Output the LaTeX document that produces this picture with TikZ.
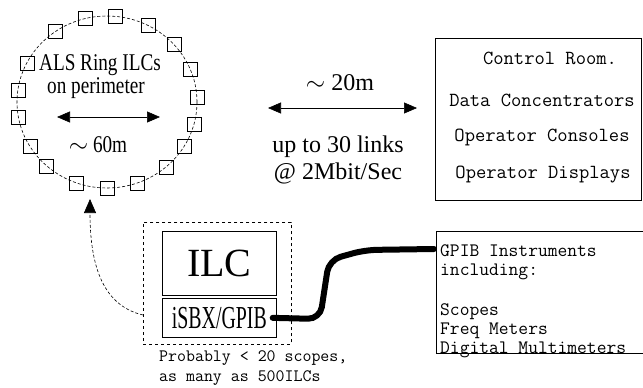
\documentclass[tikz,border=0pt]{standalone}
\usepackage{fontspec}
\setmainfont{Liberation Serif}
\newfontfamily\narrowserif[FakeStretch=0.8]{Liberation Serif}
\newfontfamily\tightserif[FakeStretch=0.62]{Liberation Serif}
\usetikzlibrary{calc,positioning,arrows.meta}

\begin{document}
\begin{tikzpicture}[x=1pt,y=-1pt]

\useasboundingbox (0,0) rectangle (643,388);

\tikzstyle{ringbox} = [draw, line width=0.6pt, rectangle, minimum size=14pt, inner sep=0pt]
\tikzstyle{thinbox} = [draw, line width=0.7pt, rectangle, inner sep=0pt]
\tikzstyle{bigtips} = [{Triangle[length=13pt,width=11pt]}-{Triangle[length=13pt,width=11pt]}, line width=0.6pt]
\tikzstyle{ringtext} = [font=\narrowserif\fontsize{24}{28}\selectfont, inner sep=0pt]
\tikzstyle{linktext} = [font=\fontsize{24}{28}\selectfont, inner sep=0pt]
\tikzstyle{ttroom} = [font=\ttfamily\fontsize{20}{24}\selectfont, inner sep=0pt]

% the ring with its ILCs
\coordinate (ring) at (107,102);
\draw [line width=0.6pt, densely dashed] (ring) ellipse [x radius=90pt, y radius=86pt];
\foreach \a [count=\i] in {104,85,63,42,22,3,-15,-31,-49,-70,-90,-110,-132,-149,-170,172,153,125}
  \node [ringbox] (rb\i) at ($(ring)+(\a:90pt and 86pt)$) {};

\node [ringtext] (alsring) at (100,65) {ALS Ring ILCs};
\node [ringtext] (perim) at (96,88) {on perimeter};
\coordinate (ringL) at (57,117);
\coordinate (ringR) at (160,117);
\draw [bigtips] (ringL) -- (ringR);
\node [ringtext] (sixty) at (98,145) {$\sim$ 60m};

% links to the control room
\node [linktext] (twenty) at (340,83) {$\sim$ 20m};
\coordinate (linkL) at (268,108);
\coordinate (linkR) at (417,108);
\draw [bigtips] (linkL) -- (linkR);
\node [linktext] (links) at (338,147) {up to 30 links};
\node [linktext] (rate) at (338,173) {@ 2Mbit/Sec};

% control room
\node (ctrl) [thinbox, anchor=north west, minimum width=206pt, minimum height=162pt] at (435,38) {};
\node [ttroom] (ctitle) at (550,58) {Control Room.};
\node [ttroom] (dconc) at (542,100) {Data Concentrators};
\node [ttroom] (ocons) at (542,137) {Operator Consoles};
\node [ttroom] (odisp) at (543,175) {Operator Displays};

% ILC crate
\node (ilcarea) [draw, dashed, line width=0.6pt, anchor=north west, minimum width=148pt, minimum height=122pt] at (143,222) {};
\node (ilc) [thinbox, anchor=north west, minimum width=114pt, minimum height=64pt, font=\fontsize{40}{44}\selectfont] at (162,231) {ILC};
\node (isbx) [thinbox, anchor=north west, minimum width=114pt, minimum height=39pt, font=\tightserif\fontsize{32}{36}\selectfont] at (162,298) {iSBX/GPIB};
\node (note) [anchor=north west, align=left, inner sep=0pt, font=\ttfamily\fontsize{17.4}{20}\selectfont] at (159,350) {Probably < 20 scopes,\\as many as 500ILCs};

\coordinate (loopin) at (143,315);
\coordinate (ringtip) at (90,199);
\draw [-{Triangle[length=14pt,width=12pt]}, line width=0.6pt, densely dashed] (loopin) .. controls (100,305) and (90,260) .. (ringtip);

% GPIB instruments
\node (gpib) [thinbox, anchor=north west, minimum width=207pt, minimum height=122pt] at (436,231) {};
\node (gpibtext) [anchor=north west, align=left, inner sep=0pt, font=\ttfamily\fontsize{19}{19}\selectfont] at (440,244) {GPIB Instruments\\including:\\[21pt]Scopes\\Freq Meters\\Digital Multimeters};

\coordinate (gpibin) at (434,249);
\draw [line width=6pt, line cap=round, rounded corners=12pt] ($(isbx.east)+(-4,0)$) -- (320,319) -- (329,260) -- (365,250) -- (gpibin);

\end{tikzpicture}
\end{document}
